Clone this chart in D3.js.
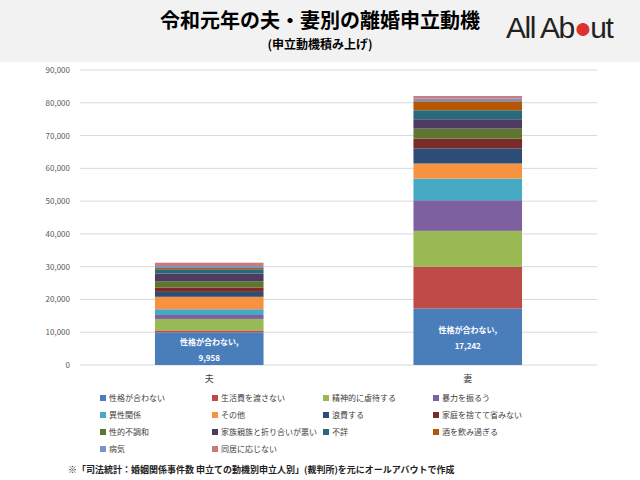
<!DOCTYPE html><html><head><meta charset="utf-8"><script src="https://cdn.jsdelivr.net/npm/d3@7"></script>
<style>body{margin:0;background:#fff;font-family:"Noto Sans CJK JP",sans-serif}</style></head><body><svg id="c" width="640" height="480"></svg>
<script>
const categories=["夫","妻"];
const seriesNames=["性格が合わない","生活費を渡さない","精神的に虐待する","暴力を振るう","異性関係","その他","浪費する","家庭を捨てて省みない","性的不調和","家族親族と折り合いが悪い","不詳","酒を飲み過ぎる","病気","同居に応じない"];
const husbandValues=[9958,600,3500,1200,1750,3800,1500,1350,1900,2350,1300,400,600,1000];
const wifeValues=[17242,12700,10980,9350,6600,4600,4570,3030,3050,2850,2740,2750,800,800];
const colors=["#4a7ebb","#be4b48","#98b954","#7d60a0","#46aac5","#f69240","#2c4d75","#772c2a","#5f7530","#4d3b62","#276a7c","#b65708","#7c93c5","#c97a7c"];
const yTicks=[0,10000,20000,30000,40000,50000,60000,70000,80000,90000];
const svg=d3.select("#c");
svg.append("rect").attr("width",640).attr("height",62).attr("fill","#f2f2f2");
svg.append("text").attr("x",320).attr("y",28).attr("text-anchor","middle").attr("font-size",20).attr("font-weight","bold").text("令和元年の夫・妻別の離婚申立動機");
svg.append("text").attr("x",320).attr("y",49).attr("text-anchor","middle").attr("font-size",12).attr("font-weight","bold").text("(申立動機積み上げ)");
const logo=svg.append("text").attr("x",506).attr("y",38).attr("font-size",30).attr("font-family","Liberation Sans").attr("fill","#e03030").attr("letter-spacing","-1.5");
logo.append("tspan").attr("fill","#222").text("All Ab");logo.append("tspan").text("●");logo.append("tspan").attr("fill","#222").text("ut");
const y=d3.scaleLinear().domain([0,90000]).range([365,70]);
const x=d3.scaleBand().domain(categories).range([80,597]).paddingInner(0.58).paddingOuter(0.29);
const g=svg.append("g");
g.selectAll("line.grid").data(yTicks).join("line").attr("x1",80).attr("x2",597).attr("y1",d=>y(d)).attr("y2",d=>y(d)).attr("stroke","#d9d9d9");
g.selectAll("text.yt").data(yTicks).join("text").attr("x",70).attr("y",d=>y(d)+3).attr("text-anchor","end").attr("font-size",8).attr("fill","#595959").text(d3.format(","));
const rows=categories.map((c,i)=>{const o={cat:c};const v=i?wifeValues:husbandValues;seriesNames.forEach((s,j)=>o[s]=v[j]);return o;});
const stack=d3.stack().keys(seriesNames)(rows);
stack.forEach((layer,j)=>g.selectAll(null).data(layer).join("rect").attr("x",d=>x(d.data.cat)).attr("width",x.bandwidth()).attr("y",d=>y(d[1])).attr("height",d=>y(d[0])-y(d[1])).attr("fill",colors[j]));
stack[0].forEach(d=>{const cx=x(d.data.cat)+x.bandwidth()/2,cy=y(d[1]/2);
g.append("text").attr("x",cx).attr("y",cy-4).attr("text-anchor","middle").attr("font-size",8).attr("font-weight","bold").attr("fill","#fff").text("性格が合わない,");
g.append("text").attr("x",cx).attr("y",cy+12).attr("text-anchor","middle").attr("font-size",8).attr("font-weight","bold").attr("fill","#fff").text(d3.format(",")(d[1]));});
g.selectAll("text.xt").data(categories).join("text").attr("x",d=>x(d)+x.bandwidth()/2).attr("y",382).attr("text-anchor","middle").attr("font-size",9).attr("fill","#404040").text(d=>d);
const lg=svg.append("g");
seriesNames.forEach((s,i)=>{const cx=[100,212,323,433][i%4],cy=[401,418,435,452][Math.floor(i/4)];
lg.append("rect").attr("x",cx).attr("y",cy-6).attr("width",6).attr("height",6).attr("fill",colors[i]);
lg.append("text").attr("x",cx+9).attr("y",cy).attr("font-size",8).attr("fill","#404040").text(s);});
svg.append("text").attr("x",68).attr("y",473).attr("font-size",9).attr("font-weight","bold").attr("fill","#222").text("※「司法統計：婚姻関係事件数 申立ての動機別申立人別」(裁判所)を元にオールアバウトで作成");
</script></body></html>
